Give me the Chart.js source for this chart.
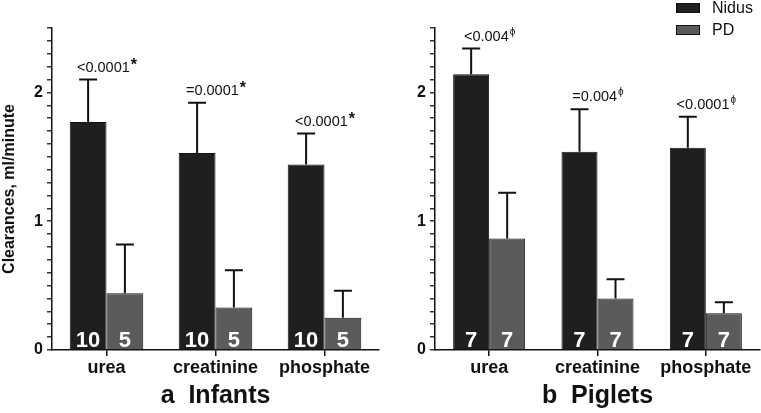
<!DOCTYPE html>
<html>
<head>
<meta charset="utf-8">
<script src="https://cdn.jsdelivr.net/npm/chart.js@4.4.1/dist/chart.umd.min.js"></script>
<style>
  html, body { margin: 0; padding: 0; background: #fff; }
  #wrap { position: relative; width: 761px; height: 413px; }
  #wrap canvas { position: absolute; top: 0; }
</style>
</head>
<body>
<div id="wrap">
  <canvas id="infants" width="380" height="413" style="left:0"></canvas>
  <canvas id="piglets" width="381" height="413" style="left:380px"></canvas>
</div>
<script>
// categories and series
const categories = ['urea', 'creatinine', 'phosphate']
const seriesNames = ['Nidus', 'PD']

// a Infants
const infantsNidus = [1.77, 1.53, 1.44]
const infantsNidusErr = [2.10, 1.92, 1.68]   // top of error bar
const infantsPD = [0.44, 0.33, 0.25]
const infantsPDErr = [0.82, 0.62, 0.46]
const infantsN = [['10', '5'], ['10', '5'], ['10', '5']]
const infantsP = ['<0.0001', '=0.0001', '<0.0001']
const infantsMark = '*'

// b Piglets
const pigletsNidus = [2.14, 1.54, 1.57]
const pigletsNidusErr = [2.34, 1.87, 1.81]
const pigletsPD = [0.865, 0.40, 0.285]
const pigletsPDErr = [1.22, 0.55, 0.37]
const pigletsN = [['7', '7'], ['7', '7'], ['7', '7']]
const pigletsP = ['<0.004', '=0.004', '<0.0001']
const pigletsMark = 'ϕ'

const colors = ['#1f1f1f', '#5b5b5b']
const FONT = 'Arial, "Liberation Sans", sans-serif'

// error bars, p-values and n inside the bars
const extras = {
  id: 'extras',
  afterDatasetsDraw(chart, args, opts) {
    const ctx = chart.ctx
    const y = chart.scales.y
    ctx.save()
    chart.data.datasets.forEach((ds, di) => {
      const meta = chart.getDatasetMeta(di)
      meta.data.forEach((bar, i) => {
        const top = y.getPixelForValue(ds.errTop[i])
        ctx.strokeStyle = '#111'
        ctx.lineWidth = 2
        ctx.beginPath()
        ctx.moveTo(bar.x, bar.y)
        ctx.lineTo(bar.x, top)
        ctx.moveTo(bar.x - 9, top)
        ctx.lineTo(bar.x + 9, top)
        ctx.stroke()
        // n
        ctx.fillStyle = '#fff'
        ctx.font = 'bold 22px ' + FONT
        ctx.textAlign = 'center'
        ctx.textBaseline = 'alphabetic'
        ctx.fillText(opts.n[i][di], bar.x, y.getPixelForValue(0) - 3)
      })
    })
    // p values above the Nidus error bar, centred on the category
    const x = chart.scales.x
    const markFont = (opts.mark === '*' ? 'bold 16px ' : '10px ') + FONT
    opts.p.forEach((txt, i) => {
      const cx = x.getPixelForValue(i)
      const by = y.getPixelForValue(chart.data.datasets[0].errTop[i]) - 8
      ctx.font = '14.5px ' + FONT
      const w1 = ctx.measureText(txt).width
      ctx.font = markFont
      const w2 = ctx.measureText(opts.mark).width
      const x0 = cx - (w1 + w2) / 2
      ctx.fillStyle = '#111'
      ctx.textAlign = 'left'
      ctx.font = '14.5px ' + FONT
      ctx.fillText(txt, x0, by)
      ctx.font = markFont
      ctx.fillText(opts.mark, x0 + w1 + 1, by - (opts.mark === '*' ? 2 : 6))
    })
    // legend
    if (opts.legend) {
      chart.data.datasets.forEach((ds, di) => {
        const ly = 8 + di * 22
        ctx.fillStyle = ds.backgroundColor
        ctx.strokeStyle = '#111'
        ctx.lineWidth = 1
        ctx.fillRect(296, ly - 5, 24, 10)
        ctx.strokeRect(296.5, ly - 4.5, 23, 9)
        ctx.fillStyle = '#111'
        ctx.font = '16px ' + FONT
        ctx.textAlign = 'left'
        ctx.textBaseline = 'middle'
        ctx.fillText(ds.label, 332, ly + 1)
      })
    }
    ctx.restore()
  }
}

function makeChart(id, nidus, nidusErr, pd, pdErr, n, p, mark, title, yTitle, leftW, catPct, legend) {
  return new Chart(document.getElementById(id), {
    type: 'bar',
    data: {
      labels: categories,
      datasets: [
        { label: seriesNames[0], data: nidus, errTop: nidusErr, backgroundColor: colors[0],
          borderColor: '#111', borderWidth: 1 },
        { label: seriesNames[1], data: pd, errTop: pdErr, backgroundColor: colors[1],
          borderColor: '#111', borderWidth: 1 }
      ]
    },
    options: {
      responsive: false,
      animation: false,
      layout: { padding: { top: 28, right: 1, left: 0, bottom: 0 } },
      datasets: { bar: { categoryPercentage: catPct, barPercentage: 1 } },
      plugins: {
        legend: { display: false },
        tooltip: { enabled: false },
        extras: { n: n, p: p, mark: mark, legend: legend }
      },
      scales: {
        x: {
          grid: { display: true, drawOnChartArea: false, offset: false, tickLength: 6,
                  color: '#111', lineWidth: 1.5 },
          border: { color: '#111', width: 1.5 },
          ticks: { color: '#111', font: { family: FONT, size: 18, weight: 'bold' }, padding: 1 },
          title: { display: true, text: title, color: '#111', padding: { top: 0, bottom: 2 },
                   font: { family: FONT, size: 25, weight: 'bold' } },
          afterFit: s => { s.height = 63 }
        },
        y: {
          min: 0, max: 2.5,
          grid: { display: true, drawOnChartArea: false, tickLength: 5, color: '#333', lineWidth: 1.5 },
          border: { color: '#111', width: 1.5 },
          ticks: {
            stepSize: 0.1, maxTicksLimit: 40, autoSkip: false, padding: 4, color: '#111',
            font: { family: FONT, size: 16, weight: 'bold' },
            callback: v => Math.abs(v - Math.round(v)) < 1e-6 ? String(Math.round(v)) : ''
          },
          title: { display: yTitle !== '', text: yTitle, color: '#111', padding: 0,
                   font: { family: FONT, size: 16, weight: 'bold' } },
          afterFit: s => { s.width = leftW }
        }
      }
    },
    plugins: [extras]
  })
}

makeChart('infants', infantsNidus, infantsNidusErr, infantsPD, infantsPDErr, infantsN, infantsP,
  infantsMark, 'a  Infants', 'Clearances, ml/minute', 52, 0.675, false)
makeChart('piglets', pigletsNidus, pigletsNidusErr, pigletsPD, pigletsPDErr, pigletsN, pigletsP,
  pigletsMark, 'b  Piglets', '', 55, 0.665, true)
</script>
</body>
</html>
